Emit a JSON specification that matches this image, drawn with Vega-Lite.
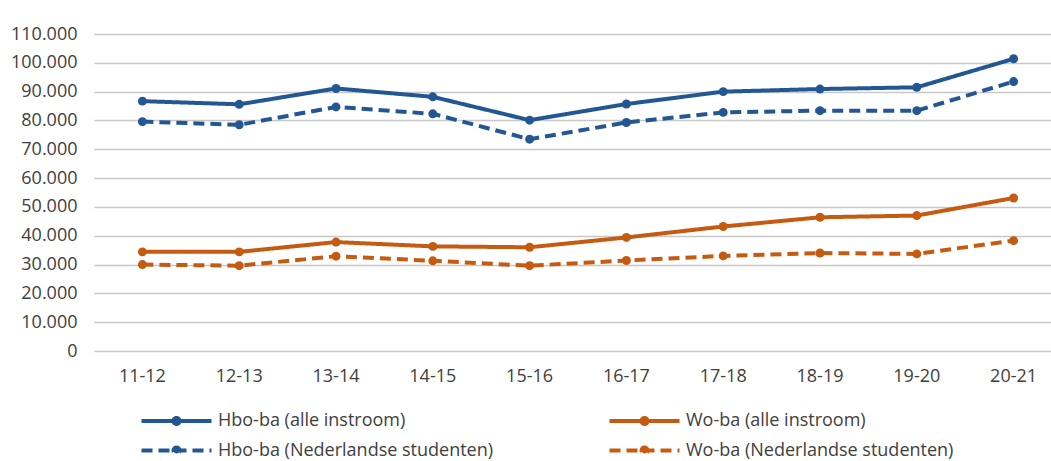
{
  "$schema": "https://vega.github.io/schema/vega-lite/v6.json",
  "autosize": {"type": "none"},
  "padding": {"left": 94, "top": 34, "right": 0, "bottom": 110},
  "width": 957,
  "height": 317,
  "background": "white",
  "config": {
    "view": {"stroke": null},
    "font": "Open Sans",
    "axis": {"labelFont": "Open Sans", "labelFontSize": 18, "labelColor": "#404040", "ticks": false, "tickSize": 0, "domain": false},
    "legend": {"labelFont": "Open Sans", "labelFontSize": 18, "labelColor": "#404040"}
  },
  "data": {
    "values": [
      {"jaar": "11-12", "serie": "Hbo-ba (alle instroom)", "waarde": 86700},
      {"jaar": "12-13", "serie": "Hbo-ba (alle instroom)", "waarde": 85600},
      {"jaar": "13-14", "serie": "Hbo-ba (alle instroom)", "waarde": 91100},
      {"jaar": "14-15", "serie": "Hbo-ba (alle instroom)", "waarde": 88200},
      {"jaar": "15-16", "serie": "Hbo-ba (alle instroom)", "waarde": 80100},
      {"jaar": "16-17", "serie": "Hbo-ba (alle instroom)", "waarde": 85700},
      {"jaar": "17-18", "serie": "Hbo-ba (alle instroom)", "waarde": 90000},
      {"jaar": "18-19", "serie": "Hbo-ba (alle instroom)", "waarde": 90900},
      {"jaar": "19-20", "serie": "Hbo-ba (alle instroom)", "waarde": 91500},
      {"jaar": "20-21", "serie": "Hbo-ba (alle instroom)", "waarde": 101400},
      {"jaar": "11-12", "serie": "Hbo-ba (Nederlandse studenten)", "waarde": 79600},
      {"jaar": "12-13", "serie": "Hbo-ba (Nederlandse studenten)", "waarde": 78500},
      {"jaar": "13-14", "serie": "Hbo-ba (Nederlandse studenten)", "waarde": 84700},
      {"jaar": "14-15", "serie": "Hbo-ba (Nederlandse studenten)", "waarde": 82300},
      {"jaar": "15-16", "serie": "Hbo-ba (Nederlandse studenten)", "waarde": 73500},
      {"jaar": "16-17", "serie": "Hbo-ba (Nederlandse studenten)", "waarde": 79300},
      {"jaar": "17-18", "serie": "Hbo-ba (Nederlandse studenten)", "waarde": 82800},
      {"jaar": "18-19", "serie": "Hbo-ba (Nederlandse studenten)", "waarde": 83400},
      {"jaar": "19-20", "serie": "Hbo-ba (Nederlandse studenten)", "waarde": 83400},
      {"jaar": "20-21", "serie": "Hbo-ba (Nederlandse studenten)", "waarde": 93500},
      {"jaar": "11-12", "serie": "Wo-ba (alle instroom)", "waarde": 34400},
      {"jaar": "12-13", "serie": "Wo-ba (alle instroom)", "waarde": 34400},
      {"jaar": "13-14", "serie": "Wo-ba (alle instroom)", "waarde": 37800},
      {"jaar": "14-15", "serie": "Wo-ba (alle instroom)", "waarde": 36300},
      {"jaar": "15-16", "serie": "Wo-ba (alle instroom)", "waarde": 36000},
      {"jaar": "16-17", "serie": "Wo-ba (alle instroom)", "waarde": 39400},
      {"jaar": "17-18", "serie": "Wo-ba (alle instroom)", "waarde": 43200},
      {"jaar": "18-19", "serie": "Wo-ba (alle instroom)", "waarde": 46400},
      {"jaar": "19-20", "serie": "Wo-ba (alle instroom)", "waarde": 47000},
      {"jaar": "20-21", "serie": "Wo-ba (alle instroom)", "waarde": 53100},
      {"jaar": "11-12", "serie": "Wo-ba (Nederlandse studenten)", "waarde": 30000},
      {"jaar": "12-13", "serie": "Wo-ba (Nederlandse studenten)", "waarde": 29600},
      {"jaar": "13-14", "serie": "Wo-ba (Nederlandse studenten)", "waarde": 32900},
      {"jaar": "14-15", "serie": "Wo-ba (Nederlandse studenten)", "waarde": 31300},
      {"jaar": "15-16", "serie": "Wo-ba (Nederlandse studenten)", "waarde": 29600},
      {"jaar": "16-17", "serie": "Wo-ba (Nederlandse studenten)", "waarde": 31400},
      {"jaar": "17-18", "serie": "Wo-ba (Nederlandse studenten)", "waarde": 33000},
      {"jaar": "18-19", "serie": "Wo-ba (Nederlandse studenten)", "waarde": 34000},
      {"jaar": "19-20", "serie": "Wo-ba (Nederlandse studenten)", "waarde": 33700},
      {"jaar": "20-21", "serie": "Wo-ba (Nederlandse studenten)", "waarde": 38300}
    ]
  },
  "encoding": {
    "x": {
      "field": "jaar", "type": "ordinal", "title": null,
      "scale": {"type": "band", "range": [0, 968], "paddingInner": 0, "paddingOuter": 0},
      "axis": {"labelAngle": 0, "labelPadding": 16, "grid": false}
    },
    "y": {
      "field": "waarde", "type": "quantitative", "title": null,
      "scale": {"domain": [0, 110000], "nice": false, "zero": true},
      "axis": {
        "values": [0, 10000, 20000, 30000, 40000, 50000, 60000, 70000, 80000, 90000, 100000, 110000],
        "labelExpr": "replace(format(datum.value, ',d'), ',', '.')",
        "labelPadding": 17, "grid": true, "gridColor": "#c8c8c8", "gridWidth": 1.3
      }
    },
    "color": {
      "field": "serie", "type": "nominal", "title": null,
      "scale": {
        "domain": ["Hbo-ba (alle instroom)", "Wo-ba (alle instroom)", "Hbo-ba (Nederlandse studenten)", "Wo-ba (Nederlandse studenten)"],
        "range": ["#235793", "#c55a11", "#235793", "#c55a11"]
      },
      "legend": {
        "orient": "none", "direction": "horizontal", "legendX": 70.5, "legendY": 375, "columns": 2, "columnPadding": 108, "rowPadding": 6.5,
        "padding": 0, "labelOffset": 29.5, "labelLimit": 500,
        "symbolType": "M-3.5,0H3.5M-0.3,0A0.3,0.3,0,1,1,0.3,0A0.3,0.3,0,1,1,-0.3,0Z",
        "symbolSize": 400, "symbolStrokeWidth": 4,
        "encode": {"symbols": {"update": {"fill": {"scale": "color", "field": "value"}, "stroke": {"scale": "color", "field": "value"}}}}
      }
    },
    "strokeDash": {
      "field": "serie", "type": "nominal", "title": null,
      "scale": {
        "domain": ["Hbo-ba (alle instroom)", "Wo-ba (alle instroom)", "Hbo-ba (Nederlandse studenten)", "Wo-ba (Nederlandse studenten)"],
        "range": [[1, 0], [1, 0], [11, 6], [11, 6]]
      }
    }
  },
  "layer": [
    {"mark": {"type": "line", "strokeWidth": 4, "strokeCap": "butt"}},
    {"mark": {"type": "point", "filled": true, "size": 80, "opacity": 1}, "encoding": {"strokeDash": {"value": [1, 0]}}}
  ]
}
